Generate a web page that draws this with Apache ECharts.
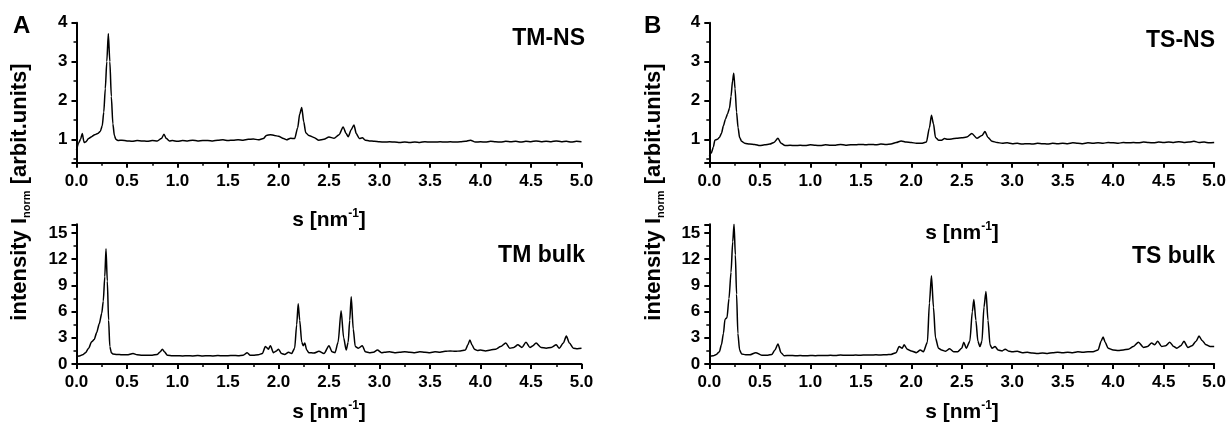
<!DOCTYPE html>
<html>
<head>
<meta charset="utf-8">
<script src="https://cdn.jsdelivr.net/npm/echarts@6/dist/echarts.min.js"></script>
<style>
html,body{margin:0;padding:0;background:#fff;}
#chart{width:1229px;height:424px;}
</style>
</head>
<body>
<div id="chart"></div>
<script>
// ---------- DATA ----------
var xTicks = ['0.0','0.5','1.0','1.5','2.0','2.5','3.0','3.5','4.0','4.5','5.0'];
var yTicksTop = ['1','2','3','4'];
var yTicksBottom = ['0','3','6','9','12','15'];
var panelTitles = ['TM-NS', 'TM bulk', 'TS-NS', 'TS bulk'];
var panelLetters = ['A', 'B'];

// TM-NS (panel A, top)
var tmnsS = [0,0.02,0.04,0.057,0.075,0.09,0.12,0.15,0.18,0.21,0.235,0.255,0.27,0.285,0.3,0.315,0.33,0.345,0.36,0.375,0.39,0.41,0.45,0.5,0.55,0.6,0.65,0.7,0.75,0.8,0.84,0.866,0.89,0.92,0.95,1.0,1.05,1.1,1.15,1.2,1.25,1.3,1.35,1.4,1.45,1.5,1.55,1.6,1.65,1.7,1.75,1.8,1.85,1.88,1.92,1.96,2.0,2.05,2.08,2.12,2.16,2.19,2.21,2.23,2.25,2.27,2.3,2.35,2.4,2.45,2.5,2.55,2.6,2.64,2.67,2.69,2.72,2.747,2.77,2.8,2.83,2.86,2.9,2.95,3.0,3.05,3.1,3.15,3.2,3.25,3.3,3.35,3.4,3.45,3.5,3.55,3.6,3.65,3.7,3.75,3.8,3.85,3.9,3.95,4.0,4.05,4.1,4.15,4.2,4.25,4.3,4.35,4.4,4.45,4.5,4.55,4.6,4.65,4.7,4.75,4.8,4.85,4.9,4.95,5.0];
var tmnsI = [0.72,0.9,1.0,1.15,0.92,0.93,1.02,1.07,1.12,1.15,1.2,1.35,1.7,2.3,3.0,3.72,3.0,2.1,1.4,1.1,1.0,0.97,0.98,0.96,0.95,0.97,0.96,0.95,0.97,0.96,1.02,1.13,1.02,0.96,0.97,0.95,0.97,0.96,0.98,0.96,0.97,0.97,0.96,0.98,0.99,0.97,0.98,0.99,0.98,1.0,1.01,0.99,1.02,1.1,1.12,1.1,1.08,1.02,0.99,1.03,1.02,1.3,1.65,1.82,1.45,1.17,1.1,1.05,0.98,1.0,1.06,1.03,1.12,1.32,1.15,1.07,1.25,1.37,1.15,1.02,1.04,0.98,0.96,0.95,0.94,0.93,0.94,0.93,0.92,0.93,0.92,0.93,0.92,0.94,0.93,0.93,0.94,0.93,0.94,0.93,0.94,0.95,0.98,0.93,0.94,0.93,0.95,0.94,0.93,0.95,0.94,0.95,0.93,0.95,0.94,0.96,0.94,0.95,0.94,0.96,0.94,0.95,0.93,0.95,0.94];

// TM bulk (panel A, bottom)
var tmbS = [0,0.03,0.06,0.09,0.12,0.15,0.175,0.2,0.225,0.25,0.265,0.28,0.292,0.305,0.318,0.33,0.345,0.36,0.4,0.45,0.5,0.56,0.6,0.65,0.7,0.75,0.8,0.83,0.85,0.87,0.9,0.95,1.0,1.05,1.1,1.15,1.2,1.25,1.3,1.35,1.4,1.45,1.5,1.55,1.6,1.65,1.69,1.72,1.75,1.8,1.84,1.87,1.9,1.92,1.95,1.98,2.0,2.03,2.06,2.1,2.13,2.16,2.18,2.195,2.21,2.23,2.245,2.26,2.28,2.3,2.35,2.4,2.45,2.5,2.53,2.56,2.59,2.62,2.645,2.67,2.69,2.705,2.72,2.74,2.76,2.79,2.83,2.86,2.9,2.94,2.98,3.02,3.05,3.1,3.15,3.2,3.25,3.3,3.35,3.4,3.45,3.5,3.55,3.6,3.65,3.7,3.75,3.8,3.85,3.875,3.895,3.915,3.94,3.97,4.0,4.05,4.1,4.15,4.2,4.25,4.29,4.33,4.37,4.41,4.45,4.49,4.52,4.55,4.6,4.65,4.7,4.75,4.78,4.82,4.85,4.88,4.92,4.96,5.0];
var tmbI = [0.9,0.92,1.05,1.3,1.8,2.55,2.8,3.6,4.6,5.8,7.2,10.0,13.2,9.5,5.0,2.0,1.3,1.15,1.1,1.05,1.05,1.2,1.05,1.0,1.0,1.0,1.1,1.4,1.7,1.4,1.0,0.95,0.95,0.92,0.95,0.93,0.96,0.92,0.95,0.93,0.96,0.94,0.95,0.97,0.95,1.0,1.3,1.0,1.0,1.05,1.2,2.0,1.7,2.1,1.3,1.5,1.7,1.2,1.1,1.35,1.2,1.8,4.5,6.9,5.0,2.5,2.1,2.4,1.6,1.3,1.25,1.45,1.2,2.1,1.4,1.3,2.5,6.1,3.0,1.6,2.5,5.0,7.7,4.0,2.0,1.8,2.1,1.4,1.3,1.35,1.6,1.3,1.35,1.4,1.3,1.35,1.4,1.35,1.3,1.4,1.35,1.3,1.4,1.35,1.45,1.5,1.45,1.5,1.6,2.2,2.75,2.2,1.7,1.55,1.6,1.5,1.6,1.7,2.0,2.4,1.8,1.9,2.2,1.9,2.5,1.9,2.1,2.4,1.9,1.8,1.9,2.2,1.8,2.4,3.2,2.4,1.8,1.75,1.8];

// TS-NS (panel B, top)
var tsnsS = [0,0.02,0.04,0.055,0.08,0.1,0.12,0.14,0.16,0.18,0.2,0.215,0.23,0.242,0.255,0.27,0.285,0.3,0.32,0.35,0.4,0.45,0.5,0.55,0.6,0.64,0.68,0.71,0.75,0.8,0.85,0.9,0.95,1.0,1.05,1.1,1.15,1.2,1.25,1.3,1.35,1.4,1.45,1.5,1.55,1.6,1.65,1.7,1.75,1.8,1.85,1.9,1.95,2.0,2.05,2.1,2.15,2.18,2.2,2.22,2.24,2.27,2.3,2.33,2.36,2.4,2.45,2.5,2.55,2.6,2.65,2.7,2.73,2.76,2.8,2.85,2.9,2.95,3.0,3.05,3.1,3.15,3.2,3.25,3.3,3.35,3.4,3.45,3.5,3.55,3.6,3.65,3.7,3.75,3.8,3.85,3.9,3.95,4.0,4.05,4.1,4.15,4.2,4.25,4.3,4.35,4.4,4.45,4.5,4.55,4.6,4.65,4.7,4.75,4.8,4.85,4.9,4.95,5.0];
var tsnsI = [0.58,0.65,0.8,0.98,1.0,1.05,1.15,1.35,1.52,1.65,1.8,2.1,2.5,2.7,2.3,1.7,1.3,1.05,0.95,0.9,0.88,0.87,0.84,0.86,0.88,0.92,1.03,0.9,0.84,0.85,0.84,0.85,0.84,0.86,0.85,0.84,0.86,0.85,0.85,0.87,0.85,0.86,0.86,0.87,0.86,0.87,0.86,0.88,0.87,0.88,0.92,0.96,0.93,0.92,0.9,0.9,0.93,1.3,1.62,1.4,1.05,0.98,0.98,1.02,1.0,1.01,1.03,1.04,1.06,1.15,1.03,1.1,1.2,1.05,0.95,0.92,0.9,0.91,0.89,0.9,0.88,0.89,0.88,0.9,0.89,0.88,0.9,0.89,0.9,0.89,0.91,0.9,0.89,0.91,0.9,0.91,0.9,0.92,0.91,0.9,0.92,0.91,0.92,0.91,0.93,0.92,0.91,0.93,0.92,0.93,0.92,0.94,0.92,0.93,0.95,0.92,0.93,0.91,0.92];

// TS bulk (panel B, bottom)
var tsbS = [0,0.04,0.07,0.1,0.12,0.14,0.155,0.175,0.195,0.215,0.232,0.245,0.258,0.27,0.283,0.3,0.32,0.36,0.4,0.46,0.52,0.58,0.62,0.65,0.68,0.71,0.74,0.8,0.85,0.9,0.95,1.0,1.05,1.1,1.15,1.2,1.25,1.3,1.35,1.4,1.45,1.5,1.55,1.6,1.65,1.7,1.75,1.8,1.85,1.88,1.91,1.93,1.96,2.0,2.05,2.09,2.12,2.16,2.18,2.2,2.22,2.24,2.27,2.3,2.34,2.38,2.42,2.46,2.5,2.52,2.545,2.58,2.605,2.62,2.64,2.66,2.68,2.7,2.72,2.74,2.76,2.78,2.8,2.83,2.86,2.9,2.93,2.97,3.0,3.05,3.1,3.15,3.2,3.25,3.3,3.35,3.4,3.45,3.5,3.55,3.6,3.65,3.7,3.75,3.8,3.85,3.88,3.9,3.92,3.95,4.0,4.05,4.1,4.15,4.2,4.25,4.3,4.34,4.38,4.41,4.44,4.48,4.52,4.56,4.6,4.63,4.67,4.7,4.74,4.78,4.82,4.85,4.88,4.92,4.96,5.0];
var tsbI = [0.9,0.95,1.1,1.4,2.2,3.5,5.1,5.3,7.5,10.5,14.0,16.0,12.5,8.0,3.5,1.6,1.15,1.05,1.05,1.3,1.0,1.0,1.1,1.6,2.3,1.3,0.95,0.97,0.95,0.96,0.94,0.97,0.95,0.98,0.96,1.0,0.97,1.02,0.99,1.0,1.02,1.01,1.03,1.02,1.05,1.04,1.06,1.1,1.3,2.0,1.8,2.2,1.7,1.5,1.3,1.6,1.4,2.5,7.0,10.1,6.5,3.0,1.8,1.6,1.45,1.75,1.4,1.4,1.8,2.5,1.8,2.6,6.0,7.4,5.0,2.6,2.0,2.6,6.5,8.3,5.0,2.2,1.8,2.0,1.6,1.5,1.7,1.45,1.4,1.45,1.3,1.35,1.25,1.2,1.25,1.2,1.3,1.35,1.3,1.35,1.3,1.4,1.35,1.4,1.4,1.6,2.6,3.1,2.5,1.8,1.6,1.55,1.6,1.7,2.0,2.5,1.9,2.0,2.4,2.2,2.6,2.0,2.1,2.5,2.0,1.8,2.1,2.6,1.9,2.1,2.6,3.2,2.7,2.2,2.0,2.0];

// ---------- CHART ----------
function pairs(xs, ys) { var out = []; for (var i = 0; i < xs.length; i++) out.push([xs[i], ys[i]]); return out; }

var FONT = '"Liberation Sans", Arial, sans-serif';
var black = '#000';

var grids = [
  {left: 76.5, top: 22.7, width: 505, height: 140},
  {left: 76.5, top: 224.3, width: 505, height: 139.7},
  {left: 709.3, top: 22.7, width: 506.7, height: 140},
  {left: 709.3, top: 224.3, width: 506.7, height: 139.7}
];

function xAxisFor(i) {
  return {
    type: 'value', gridIndex: i, min: 0, max: 5, interval: 0.5,
    axisLine: {show: true, onZero: false, lineStyle: {color: black, width: 2}},
    axisTick: {show: true, length: 5, lineStyle: {color: black, width: 2}},
    minorTick: {show: true, splitNumber: 2, length: 3, lineStyle: {color: black, width: 1.5}},
    splitLine: {show: false},
    axisLabel: {
      color: black, fontWeight: 'bold', fontSize: 17, fontFamily: FONT, margin: 10,
      formatter: function (v) { var idx = Math.round(v / 0.5); return xTicks[idx] !== undefined && Math.abs(v - idx * 0.5) < 1e-6 ? xTicks[idx] : ''; }
    }
  };
}
function yAxisFor(i, top) {
  var labels = top ? yTicksTop : yTicksBottom;
  var ax = {
    type: 'value', gridIndex: i,
    min: top ? 0.4 : 0, max: top ? 4 : 16,
    axisLine: {show: true, onZero: false, lineStyle: {color: black, width: 2}},
    axisTick: {show: true, length: 5, lineStyle: {color: black, width: 2}},
    minorTick: {show: true, splitNumber: 2, length: 3, lineStyle: {color: black, width: 1.5}},
    splitLine: {show: false},
    axisLabel: {
      color: black, fontWeight: 'bold', fontSize: 17, fontFamily: FONT, margin: 9,
      showMinLabel: !top, showMaxLabel: !top ? false : true,
      formatter: function (v) {
        for (var k = 0; k < labels.length; k++) { if (Math.abs(parseFloat(labels[k]) - v) < 1e-6) return labels[k]; }
        return '';
      }
    }
  };
  if (top) { ax.splitNumber = 4; ax.minInterval = 1; ax.maxInterval = 1; }
  else { ax.interval = 3; }
  return ax;
}

function lineSeries(i, xs, ys) {
  return {
    type: 'line', xAxisIndex: i, yAxisIndex: i, data: pairs(xs, ys),
    showSymbol: false, symbol: 'none', smooth: 0.25, smoothMonotone: 'x',
    lineStyle: {color: black, width: 1.5}, silent: true, animation: false
  };
}

var richAxis = {
  a: {fontSize: 21, fontWeight: 'bold', fontFamily: FONT, color: black, lineHeight: 24},
  sup: {fontSize: 12, fontWeight: 'bold', fontFamily: FONT, color: black, verticalAlign: 'top', lineHeight: 24}
};
var richY = {
  a: {fontSize: 22, fontWeight: 'bold', fontFamily: FONT, color: black, lineHeight: 24},
  sub: {fontSize: 11, fontWeight: 'bold', fontFamily: FONT, color: black, verticalAlign: 'bottom', lineHeight: 24}
};
var xName = '{a|s [nm}{sup|-1}{a|]}';
var yName = '{a|intensity I}{sub|norm}{a| [arbit.units]}';

function txt(x, y, text, size, align) {
  return {type: 'text', x: x, y: y, silent: true,
    style: {text: text, fill: black, font: 'bold ' + size + 'px ' + FONT, align: align, verticalAlign: 'middle'}};
}
function richTxt(x, y, text, rich, rot) {
  return {type: 'text', x: x, y: y, rotation: rot || 0, silent: true,
    style: {text: text, rich: rich, align: 'center', verticalAlign: 'middle', fill: black}};
}

var option = {
  backgroundColor: '#fff',
  animation: false,
  grid: grids,
  xAxis: [xAxisFor(0), xAxisFor(1), xAxisFor(2), xAxisFor(3)],
  yAxis: [yAxisFor(0, true), yAxisFor(1, false), yAxisFor(2, true), yAxisFor(3, false)],
  series: [
    lineSeries(0, tmnsS, tmnsI),
    lineSeries(1, tmbS, tmbI),
    lineSeries(2, tsnsS, tsnsI),
    lineSeries(3, tsbS, tsbI)
  ],
  graphic: [
    txt(13, 26, panelLetters[0], 24, 'left'),
    txt(644, 26, panelLetters[1], 24, 'left'),
    txt(585, 39, panelTitles[0], 23, 'right'),
    txt(585, 256, panelTitles[1], 23, 'right'),
    txt(1215, 41, panelTitles[2], 23, 'right'),
    txt(1215, 257, panelTitles[3], 23, 'right'),
    richTxt(329, 220, xName, richAxis),
    richTxt(329, 412, xName, richAxis),
    richTxt(962, 233, xName, richAxis),
    richTxt(962, 412, xName, richAxis),
    richTxt(20, 192, yName, richY, Math.PI / 2),
    richTxt(654, 192, yName, richY, Math.PI / 2)
  ]
};

var chart = echarts.init(document.getElementById('chart'), null, {renderer: 'canvas'});
chart.setOption(option);
</script>
</body>
</html>
